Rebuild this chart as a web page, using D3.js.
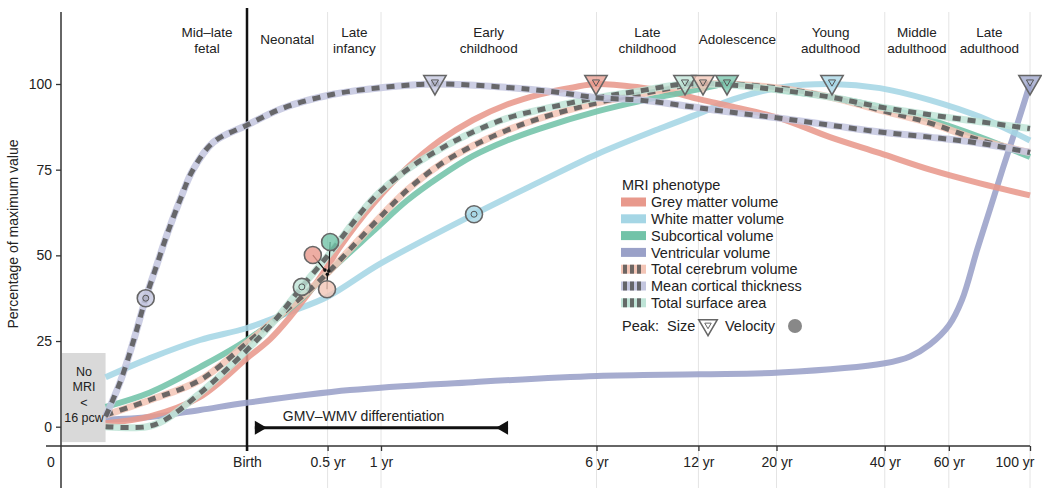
<!DOCTYPE html>
<html><head><meta charset="utf-8">
<script src="https://cdn.jsdelivr.net/npm/d3@7"></script>
<style>
body{margin:0;background:#fff}
text{font-family:"Liberation Sans",Arial,Helvetica,sans-serif;fill:#222}
</style>
</head><body>
<svg id="c" width="1042" height="488"></svg>
<script>
// Age is expressed in days post-conception (birth = 280 days)
const tickAges = [280, 462.6, 645.3, 2471, 4663, 7585, 14890, 22195, 36805];
const tickLabels = ["Birth", "0.5 yr", "1 yr", "6 yr", "12 yr", "20 yr", "40 yr", "60 yr", "100 yr"];
const yTicks = [0, 25, 50, 75, 100];
const stageBounds = [170, 280, 462.6, 645.3, 2471, 4663, 7585, 14890, 22195, 36805];
const stageNames = [["Mid\u2013late","fetal"],["Neonatal"],["Late","infancy"],["Early","childhood"],["Late","childhood"],["Adolescence"],["Young","adulthood"],["Middle","adulthood"],["Late","adulthood"]];

const gmData = [[116,1],[153,3],[209,8.7],[280,20],[323,25.5],[366,32],[415,39.5],[464,47],[500,52.5],[614,65],[759,75.5],[932,83.5],[1145,89.5],[1415,94],[1738,97],[2135,99],[2463,100],[3240,99],[3980,97.5],[4709,95.5],[5677,93.5],[7752,90],[10585,84.5],[14454,79.8],[19742,75],[26956,71],[36805,67.5]];
const wmData = [[116,14.4],[153,20],[209,25.3],[280,28.8],[366,33.5],[464,38],[641,47.5],[1152,62],[1738,71.5],[2479,79.5],[3670,87],[4709,91.5],[5785,95.5],[7752,99],[10718,100],[14454,98.8],[19742,95.3],[26956,90.4],[36805,83.5]];
const subData = [[116,5.8],[153,10],[209,17.4],[280,25.3],[390,37],[464,45],[614,57],[759,66],[932,73],[1145,79],[1415,83.5],[1738,87],[2479,92],[3240,95],[4709,98.5],[5572,100],[7752,98.2],[10585,96.2],[14454,93.3],[19742,89.5],[26956,84.5],[36805,78.7]];
const ventData = [[116,2],[153,2.8],[209,4.9],[280,7],[532,10.7],[1145,13],[2479,14.8],[4709,15.3],[7752,15.8],[14890,18.5],[17430,20.5],[19742,24],[22195,29.5],[24093,37],[26456,51.5],[28690,63.5],[31110,75.5],[33940,88],[36805,100]];
const tcvData = [[116,3.4],[153,7.8],[209,13.6],[280,24.4],[323,30],[390,37.5],[464,45],[614,59],[759,69],[932,76.5],[1145,82],[1415,86.5],[1738,90],[2479,94.5],[3240,97],[4798,100],[7752,98.8],[10585,96.2],[14454,92.4],[19742,88.6],[26956,83.6],[36805,80]];
const ctData = [[116,3],[127,13],[138,25],[149,37.5],[160,47.5],[170,56],[185,66.5],[200,75],[227,83],[280,88],[351,93],[479,97],[653,99],[903,100],[1415,99],[1932,97.6],[2479,96],[3240,95.3],[4709,93],[5677,91.8],[7752,90],[10585,88],[14454,86],[19742,84.5],[26956,82.7],[36805,80]];
const tsaData = [[116,0],[150,0],[168,2],[209,9.8],[280,22.4],[333,31],[394,40.8],[464,50],[614,66.5],[759,75],[932,81],[1145,86],[1415,90],[1738,92.5],[2479,96],[3240,98],[4289,100],[5677,99.7],[7752,98.2],[10585,96.2],[14454,93.3],[19742,91],[26956,89],[36805,87]];

const seriesNames = ["Grey matter volume","White matter volume","Subcortical volume","Ventricular volume","Total cerebrum volume","Mean cortical thickness","Total surface area"];
const seriesKeys = ["gm","wm","sub","vent","tcv","ct","tsa"];
const seriesData = {gm:gmData, wm:wmData, sub:subData, vent:ventData, tcv:tcvData, ct:ctData, tsa:tsaData};

const sizePeakKeys = ["ct","gm","tsa","tcv","sub","wm","vent"];
const sizePeakAges = [903, 2463, 4289, 4798, 5572, 10718, 36805];
const velKeys = ["ct","tsa","gm","sub","tcv","wm"];
const velAges = [149, 394, 455, 466, 462, 1152];
const velValues = [37.5, 40.8, 45.7, 45.4, 44.5, 62];
const velLabelAges = [149, 394, 422, 470, 461, 1152];
const velLabelValues = [37.5, 40.8, 50.1, 53.9, 40.1, 62];
const gmvWmvRange = [294, 1424];

// styles
const colors = {gm:"#e8998c", wm:"#a5d6e5", sub:"#72c3a8", vent:"#9aa1c8", tcv:"#f3c5b6", ct:"#c3c6df", tsa:"#bfe4d7"};
const dashedKeys = ["tcv","ct","tsa"];

const svg = d3.select("#c");
const x = d3.scaleLog().domain([280, 36805]).range([247, 1030]);
const y = d3.scaleLinear().domain([0, 100]).range([426.7, 84]);

// grid lines
svg.append("g").selectAll("line").data(tickAges.slice(1)).join("line")
  .attr("x1", d=>x(d)).attr("x2", d=>x(d)).attr("y1", 12).attr("y2", 488)
  .attr("stroke", "#e4e4e4").attr("stroke-width", 1);

// stage labels
const st = svg.append("g");
stageNames.forEach((nm, i) => {
  const cx = x(Math.sqrt(stageBounds[i]*stageBounds[i+1]));
  const t = st.append("text").attr("text-anchor","middle").attr("x", cx).style("font-size","13.5px");
  if (nm.length === 1) t.append("tspan").attr("x", cx).attr("y", 44).text(nm[0]);
  else { t.append("tspan").attr("x", cx).attr("y", 37).text(nm[0]); t.append("tspan").attr("x", cx).attr("y", 52.5).text(nm[1]); }
});

// No MRI box
svg.append("rect").attr("x", 62).attr("width", x(116)-62).attr("y", y(21.5)).attr("height", y(-4.5)-y(21.5)).attr("fill", "#d9d9d9");
["No","MRI","<","16 pcw"].forEach((s,i)=>{
  svg.append("text").attr("x", 84).attr("y", 376 + i*15.3).attr("text-anchor","middle").style("font-size","12.5px").text(s);
});

// axes
const xa = svg.append("g").attr("transform","translate(0,446)")
  .call(d3.axisBottom(x).tickValues(tickAges).tickFormat((d,i)=>tickLabels[i]).tickSize(5).tickPadding(6));
xa.select(".domain").remove();
xa.selectAll(".tick line").attr("stroke","#333").attr("stroke-width",1.3);
xa.selectAll(".tick text").style("font-size","14px").attr("fill","#222").attr("font-family",null);
xa.selectAll(".tick").filter((d,i)=>i===tickAges.length-1).select("text").attr("text-anchor","end").attr("dx", 4);
svg.append("line").attr("x1",46).attr("x2",1030).attr("y1",446).attr("y2",446).attr("stroke","#333").attr("stroke-width",1.5);
svg.append("text").attr("x",51).attr("y",467).attr("text-anchor","middle").style("font-size","14px").text("0");

const ya = svg.append("g").attr("transform","translate(61,0)")
  .call(d3.axisLeft(y).tickValues(yTicks).tickSize(5).tickPadding(4));
ya.select(".domain").remove();
ya.selectAll(".tick line").attr("stroke","#333").attr("stroke-width",1.3);
ya.selectAll(".tick text").style("font-size","14px").attr("fill","#222").attr("font-family",null);
svg.append("line").attr("x1",61).attr("x2",61).attr("y1",12).attr("y2",488).attr("stroke","#333").attr("stroke-width",1.5);
svg.append("text").attr("transform","translate(18,234) rotate(-90)").attr("text-anchor","middle").style("font-size","14px").text("Percentage of maximum value");

// birth line
svg.append("line").attr("x1",x(280)).attr("x2",x(280)).attr("y1",8).attr("y2",451).attr("stroke","#111").attr("stroke-width",2.5);

// GMV-WMV
const gy = y(-0.3);
const gx0 = x(gmvWmvRange[0]), gx1 = x(gmvWmvRange[1]);
svg.append("line").attr("x1",gx0).attr("x2",gx1).attr("y1",gy).attr("y2",gy).attr("stroke","#111").attr("stroke-width",3);
svg.append("path").attr("d",`M${gx0},${gy-7}L${gx0+12},${gy}L${gx0},${gy+7}Z`).attr("fill","#111");
svg.append("path").attr("d",`M${gx1},${gy-7}L${gx1-12},${gy}L${gx1},${gy+7}Z`).attr("fill","#111");
svg.append("text").attr("x",gx0+28).attr("y",gy-7).style("font-size","14px").text("GMV\u2013WMV differentiation");

// curves
const line = d3.line().x(d=>x(d[0])).y(d=>y(d[1])).curve(d3.curveCatmullRom.alpha(0.5));
const cg = svg.append("g").attr("fill","none").attr("stroke-linecap","butt");
["vent","wm","gm","sub"].forEach(k=>{
  cg.append("path").attr("d", line(seriesData[k])).attr("stroke", colors[k]).attr("stroke-width", 6).attr("opacity", 0.88);
});
["tcv","tsa","ct"].forEach(k=>{
  cg.append("path").attr("d", line(seriesData[k])).attr("stroke", colors[k]).attr("stroke-width", 7).attr("opacity", 0.85);
  cg.append("path").attr("d", line(seriesData[k])).attr("stroke", "#555").attr("stroke-width", 5).attr("stroke-dasharray","8,7").attr("opacity", 0.85);
});

// size peaks (triangles)
const tri = d3.symbol().type(d3.symbolTriangle);
sizePeakKeys.forEach((k,i)=>{
  const g = svg.append("g").attr("transform",`translate(${x(sizePeakAges[i])},${y(100)-2}) rotate(180)`);
  g.append("path").attr("d", tri.size(215)()).attr("fill", colors[k]).attr("fill-opacity",0.75).attr("stroke","#666").attr("stroke-width",1.6);
  g.append("path").attr("d", tri.size(22)()).attr("fill","none").attr("stroke","#555").attr("stroke-width",1);
});

// velocity peaks (circles)
velKeys.forEach((k,i)=>{
  const px = x(velAges[i]), py = y(velValues[i]);
  const lx = x(velLabelAges[i]), ly = y(velLabelValues[i]);
  if (Math.abs(px-lx) > 1 || Math.abs(py-ly) > 1) {
    svg.append("line").attr("x1",px).attr("y1",py).attr("x2",lx).attr("y2",ly).attr("stroke","#111").attr("stroke-width",1.2);
    svg.append("circle").attr("cx",px).attr("cy",py).attr("r",1.8).attr("fill","#111");
  }
  svg.append("circle").attr("cx",lx).attr("cy",ly).attr("r",8.5).attr("fill",colors[k]).attr("fill-opacity",0.8).attr("stroke","#666").attr("stroke-width",1.6);
  if (k==="wm"||k==="ct"||k==="tsa") svg.append("circle").attr("cx",lx).attr("cy",ly).attr("r",3).attr("fill","none").attr("stroke","#555").attr("stroke-width",1);
});

// legend
const lg = svg.append("g").attr("transform","translate(621,0)");
lg.append("text").attr("x",1).attr("y",190).style("font-size","14.5px").text("MRI phenotype");
seriesKeys.forEach((k,i)=>{
  const cy = 202 + i*16.8;
  lg.append("rect").attr("x",0).attr("y",cy-4.5).attr("width",25).attr("height",9).attr("fill",colors[k]);
  if (dashedKeys.includes(k)) {
    [2,9,16].forEach(s=> lg.append("rect").attr("x",s).attr("y",cy-4.5).attr("width",4).attr("height",9).attr("fill","#555").attr("opacity",0.85));
  }
  lg.append("text").attr("x",30).attr("y",cy).attr("dy","0.36em").style("font-size","14.5px").text(seriesNames[i]);
});
const py0 = 326;
lg.append("text").attr("x",1).attr("y",py0).attr("dy","0.36em").style("font-size","14.5px").text("Peak:");
lg.append("text").attr("x",46).attr("y",py0).attr("dy","0.36em").style("font-size","14.5px").text("Size");
const lt = lg.append("g").attr("transform",`translate(87,${py0-1}) rotate(180)`);
lt.append("path").attr("d",tri.size(150)()).attr("fill","#fff").attr("stroke","#666").attr("stroke-width",1.5);
lt.append("path").attr("d",tri.size(18)()).attr("fill","none").attr("stroke","#666").attr("stroke-width",1);
lg.append("text").attr("x",104).attr("y",py0).attr("dy","0.36em").style("font-size","14.5px").text("Velocity");
lg.append("circle").attr("cx",174).attr("cy",py0).attr("r",7).attr("fill","#888");
</script>
</body></html>
